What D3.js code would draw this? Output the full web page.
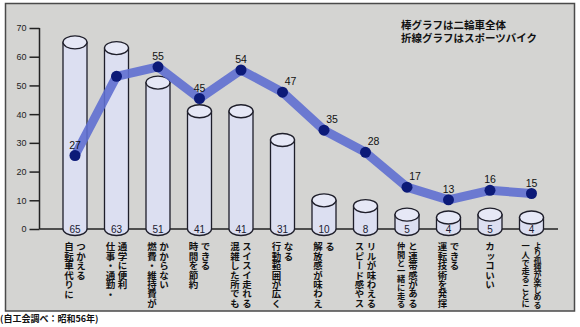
<!DOCTYPE html>
<html><head><meta charset="utf-8">
<script src="https://cdn.jsdelivr.net/npm/d3@7"></script>
<style>
html,body{margin:0;padding:0;background:#fff;}
svg{display:block;}
</style></head>
<body>
<svg id="chart" width="580" height="327"></svg>
<script>
// ---- data ----
const categories = [
  ["自転車代りに","つかえる"],
  ["仕事・通勤・","通学に便利"],
  ["燃費・維持費が","かからない"],
  ["時間を節約","できる"],
  ["混雑した所でも","スイスイ走れる"],
  ["行動範囲が広く","なる"],
  ["解放感が味わえ","る"],
  ["スピード感やス","リルが味わえる"],
  ["仲間と一緒に走る","と連帯感がある"],
  ["運転技術を発揮","できる"],
  ["カッコいい"],
  ["一人で走ることに","より孤独が楽しめる"]
];
const barValues  = [65, 63, 51, 41, 41, 31, 10, 8, 5, 4, 5, 4];       // 二輪車全体
const lineValues = [27, 52, 55, 45, 54, 47, 35, 28, 17, 13, 16, 15];  // スポーツバイク
const lineLabelShown = [true, false, true, true, true, true, true, true, true, true, true, true];
const yTicks = [0, 10, 20, 30, 40, 50, 60, 70];
const legendLines = ["棒グラフは二輪車全体", "折線グラフはスポーツバイク"];
const footnote = "(自工会調べ：昭和56年)";

// ---- setup ----
const svg = d3.select("#chart");
const jp = "'Noto Sans CJK JP','Noto Sans CJK SC',sans-serif";
const num = "'Liberation Sans',Arial,sans-serif";

const x = d3.scalePoint().domain(d3.range(categories.length)).range([75, 531.5]);
const y = d3.scaleLinear().domain([0, 70]).range([229, 28]);
const yLine = d3.scaleLinear().domain([0, 60]).range([241, 51]);
const barW = 24, ry = 6.5;

// frame
svg.append("rect").attr("x", 5.5).attr("y", 3.5).attr("width", 569).attr("height", 307.5)
  .attr("fill", "#d4d4d2").attr("stroke", "#4a4a4a").attr("stroke-width", 1.5);

// y axis
const axis = d3.axisLeft(y).tickValues(yTicks).tickSize(10).tickPadding(3).tickFormat(d3.format("d"));
const gAxis = svg.append("g").attr("transform", "translate(39.5,0)").call(axis);
gAxis.select(".domain").attr("stroke", "#222").attr("stroke-width", 1.5).attr("d", `M0,${y(70)}V${y(0)}`);
gAxis.selectAll(".tick line").attr("stroke", "#222").attr("stroke-width", 1.5);
gAxis.selectAll(".tick text").attr("font-family", num).attr("font-size", 9).attr("fill", "#222");

// baseline
svg.append("line").attr("x1", 39.5).attr("x2", 558).attr("y1", y(0)).attr("y2", y(0))
  .attr("stroke", "#222").attr("stroke-width", 1.5);

// cylinders
const bars = svg.append("g").selectAll("g").data(barValues).join("g");
bars.append("path")
  .attr("d", (d, i) => {
    const cx = x(i), x0 = cx - barW / 2, x1 = cx + barW / 2, yt = y(d), yb = y(0);
    return `M${x0},${yt}V${yb}A${barW/2},${ry} 0 0 0 ${x1},${yb}V${yt}Z`;
  })
  .attr("fill", "#dcdff1").attr("stroke", "#1e1e2a").attr("stroke-width", 1.3);
bars.append("ellipse")
  .attr("cx", (d, i) => x(i)).attr("cy", d => y(d)).attr("rx", barW / 2).attr("ry", ry)
  .attr("fill", "#e6e8f6").attr("stroke", "#1e1e2a").attr("stroke-width", 1.3);
bars.append("text")
  .attr("x", (d, i) => x(i)).attr("y", y(0) + 4)
  .attr("text-anchor", "middle").attr("font-family", num).attr("font-size", 10)
  .attr("fill", "#1a1a30").text(d => d);

// line
const pts = lineValues.map((v, i) => [x(i), yLine(v)]);
svg.append("path").attr("d", d3.line()(pts)).attr("fill", "none")
  .attr("stroke", "#5f6fd0").attr("stroke-opacity", 0.9).attr("stroke-width", 9)
  .attr("stroke-linejoin", "round");
svg.append("g").selectAll("circle").data(pts).join("circle")
  .attr("cx", d => d[0]).attr("cy", d => d[1]).attr("r", 5.5).attr("fill", "#0c1a78");

const lineLabelData = lineValues.map((v, i) => ({ v, i })).filter(d => lineLabelShown[d.i]);
svg.append("g").selectAll("text").data(lineLabelData).join("text")
  .attr("x", d => {
    const prev = lineValues[d.i - 1], next = lineValues[d.i + 1];
    const desc = prev !== undefined && next !== undefined && prev > d.v && next < d.v;
    return x(d.i) + (desc ? 8 : 0);
  })
  .attr("y", d => yLine(d.v) - 7)
  .attr("text-anchor", "middle").attr("font-family", num).attr("font-size", 10.5)
  .attr("fill", "#111").text(d => d.v);

// category labels (vertical)
const colTop = 242, colAvail = 66, fsMax = 9.5, fsMin = 8;
categories.forEach((cols, i) => {
  const n = cols.length;
  cols.forEach((t, j) => {
    const cx = n === 1 ? x(i) : x(i) + (j === 0 ? -6 : 6);
    const len = Array.from(t).length;
    const fs = Math.max(fsMin, Math.min(fsMax, colAvail / len));
    const ls = len * fs > colAvail ? (colAvail - len * fs) / len : 0;
    svg.append("text")
      .attr("x", cx).attr("y", colTop)
      .style("writing-mode", "vertical-rl")
      .style("letter-spacing", ls + "px")
      .attr("font-family", jp).attr("font-weight", 700).attr("font-size", fs)
      .attr("fill", "#111").text(t);
  });
});

// legend
svg.append("g").selectAll("text").data(legendLines).join("text")
  .attr("x", 401).attr("y", (d, i) => 29 + i * 12.5)
  .attr("font-family", jp).attr("font-weight", 700).attr("font-size", 10.5)
  .attr("fill", "#111").text(d => d);

// footnote
svg.append("text").attr("x", 0).attr("y", 322)
  .attr("font-family", jp).attr("font-weight", 700).attr("font-size", 9)
  .attr("fill", "#111").text(footnote);
</script>
</body></html>
